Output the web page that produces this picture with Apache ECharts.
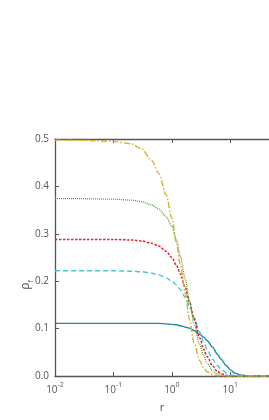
<!DOCTYPE html>
<html>
<head>
<meta charset="utf-8">
<script src="https://cdn.jsdelivr.net/npm/echarts@6/dist/echarts.min.js"></script>
<style>html,body{margin:0;padding:0;background:#fff;}#c{width:269px;height:420px;}</style>
</head>
<body>
<div id="c"></div>
<script>
var rValues      = [0.01, 0.03, 0.1, 0.2, 0.3, 0.45, 0.6, 0.8, 1, 1.2, 1.4, 1.7, 2, 2.4, 3, 3.5, 4, 5, 6, 7, 8.5, 10, 12, 15, 20, 30, 46];
var yellowValues = [0.498, 0.497, 0.495, 0.490, 0.480, 0.455, 0.427, 0.382, 0.333, 0.281, 0.234, 0.174, 0.120, 0.070, 0.032, 0.017, 0.009, 0.003, 0.001, 0, 0, 0, 0, 0, 0, 0, 0];
var greenValues  = [0.374, 0.374, 0.373, 0.371, 0.368, 0.361, 0.352, 0.336, 0.316, 0.287, 0.252, 0.204, 0.158, 0.110, 0.066, 0.043, 0.027, 0.011, 0.004, 0.0015, 0.0003, 0, 0, 0, 0, 0, 0];
var redValues    = [0.288, 0.288, 0.288, 0.287, 0.285, 0.280, 0.274, 0.263, 0.250, 0.233, 0.215, 0.186, 0.157, 0.120, 0.080, 0.057, 0.041, 0.021, 0.010, 0.005, 0.0015, 0.0003, 0, 0, 0, 0, 0];
var cyanValues   = [0.222, 0.222, 0.222, 0.221, 0.220, 0.217, 0.213, 0.207, 0.200, 0.192, 0.182, 0.166, 0.148, 0.124, 0.092, 0.072, 0.056, 0.035, 0.022, 0.014, 0.007, 0.003, 0.001, 0, 0, 0, 0];
var tealValues   = [0.111, 0.111, 0.111, 0.111, 0.111, 0.111, 0.111, 0.110, 0.109, 0.108, 0.106, 0.103, 0.101, 0.096, 0.088, 0.082, 0.075, 0.061, 0.046, 0.035, 0.022, 0.013, 0.006, 0.002, 0.0003, 0, 0];
var xTickExponents = [-2, -1, 0, 1];
var yTicks = [0, 0.1, 0.2, 0.3, 0.4, 0.5];

function pairs(vals) { return rValues.map(function (r, i) { return [Math.log10(r), vals[i]]; }); }

var chart = echarts.init(document.getElementById('c'), null, {renderer: 'canvas'});
var axisCol = '#555';
var font = 'Open Sans, Liberation Sans, sans-serif';
var xMin = Math.log10(rValues[0]);
var xMax = Math.log10(rValues[rValues.length - 1]);
function mkSeries(vals, color, type, width) {
  return {
    type: 'line', data: pairs(vals), showSymbol: false, smooth: 0.3, smoothMonotone: 'x',
    lineStyle: {color: color, width: width || 1.3, type: type}, silent: true
  };
}
var xBase = {
  type: 'value', min: xMin, max: xMax, interval: 1,
  axisLine: {show: true, onZero: false, lineStyle: {color: axisCol, width: 1.3}},
  axisTick: {show: true, inside: true, length: 4, customValues: xTickExponents, lineStyle: {color: axisCol}},
  splitLine: {show: false}
};
chart.setOption({
  animation: false,
  grid: {left: 55, right: 0, top: 139, bottom: 44},
  xAxis: [Object.assign({}, xBase, {
    axisLabel: {
      margin: 5, customValues: xTickExponents,
      formatter: function (v) { return '{b|10}{s|' + Math.round(v) + '}'; },
      rich: {
        b: {fontSize: 10, fontFamily: font, color: '#555', verticalAlign: 'bottom', lineHeight: 14},
        s: {fontSize: 7, fontFamily: font, color: '#555', verticalAlign: 'top', lineHeight: 14, padding: [0, 0, 6, 0]}
      }
    },
    name: 'r', nameLocation: 'middle', nameGap: 26,
    nameTextStyle: {fontSize: 11, fontFamily: font, color: '#555'}
  }), Object.assign({}, xBase, {
    position: 'top', axisLabel: {show: false}
  })],
  yAxis: {
    type: 'value', min: yTicks[0], max: yTicks[yTicks.length - 1], interval: 0.1,
    axisLine: {show: true, onZero: false, lineStyle: {color: axisCol, width: 1.3}},
    axisTick: {show: true, inside: true, length: 4, lineStyle: {color: axisCol}},
    splitLine: {show: false},
    axisLabel: {margin: 6, fontSize: 10, fontFamily: font, color: '#555',
      formatter: function (v) { return v.toFixed(1); }}
  },
  graphic: [{
    type: 'text', x: 27, y: 285, rotation: Math.PI / 2,
    style: {
      text: '{a|ρ}{f|f}', align: 'center', verticalAlign: 'middle',
      rich: {
        a: {fontSize: 12, fontFamily: font, fill: '#555', verticalAlign: 'top', lineHeight: 14},
        f: {fontSize: 7, fontFamily: font, fill: '#555', verticalAlign: 'bottom', lineHeight: 14, padding: [6, 0, 0, 0]}
      }
    }
  }],
  series: [
    mkSeries(tealValues, '#1f8a9c', 'solid', 1.4),
    mkSeries(cyanValues, '#3cc8dc', [5, 3], 1.4),
    mkSeries(redValues, '#e8222c', [2.5, 1.5], 1.5),
    mkSeries(greenValues, '#5e9a48', [1, 1], 1.3),
    mkSeries(yellowValues, '#d9b020', [6, 2, 1.5, 2], 1.4)
  ]
});
</script>
</body>
</html>
